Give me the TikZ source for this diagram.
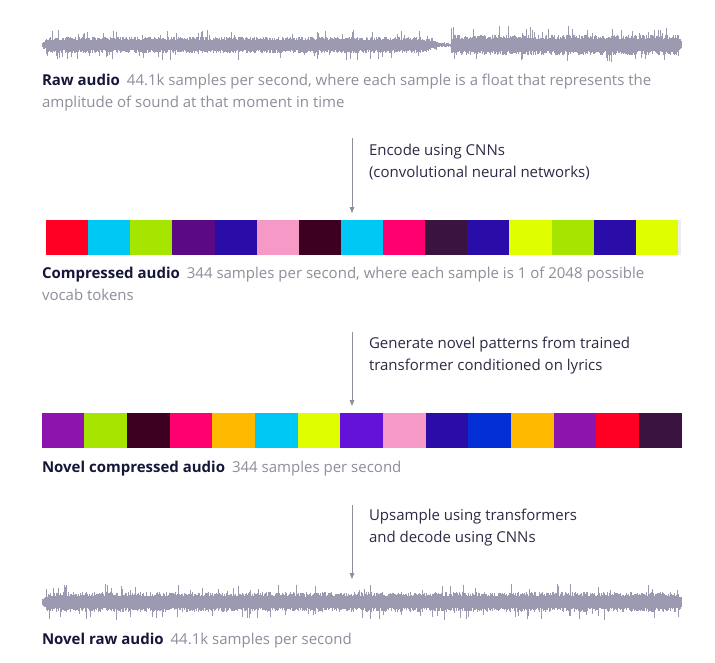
\documentclass[tikz,border=0pt]{standalone}
\usepackage{fontspec}
\setmainfont{Open Sans}
\usetikzlibrary{arrows.meta}
\definecolor{navy}{HTML}{16163A}
\definecolor{greytext}{HTML}{8E8E9C}
\definecolor{arrtext}{HTML}{2B2B45}
\definecolor{arrc}{HTML}{8F8F9C}
\definecolor{wavec}{HTML}{9C9AB0}
\definecolor{cred}{HTML}{FF0024}
\definecolor{ccyan}{HTML}{00C8F5}
\definecolor{cgreen}{HTML}{A6E500}
\definecolor{cpurple}{HTML}{5B0A84}
\definecolor{cindigo}{HTML}{2A0CA8}
\definecolor{cpink}{HTML}{F59AC6}
\definecolor{cmaroon}{HTML}{3E0020}
\definecolor{cmagenta}{HTML}{FF006E}
\definecolor{cdark}{HTML}{3A1340}
\definecolor{cyellow}{HTML}{DFFF00}
\definecolor{cviolet}{HTML}{8E14AE}
\definecolor{camber}{HTML}{FFBA00}
\definecolor{cviolettwo}{HTML}{6411D9}
\definecolor{cblue}{HTML}{0330D6}
\definecolor{sliver}{HTML}{ECECF0}
\tikzset{
  txt/.style={anchor=base west, align=left, inner sep=0pt, outer sep=0pt, font=\fontsize{15}{21.5}\selectfont},
  lbl/.style={txt, text=greytext},
  steptxt/.style={txt, text=arrtext},
  cell/.style={anchor=north west, inner sep=0pt, outer sep=0pt, draw=none, minimum height=35pt},
  flow/.style={draw=arrc, line width=0.8pt, -{Triangle[width=4.5pt,length=6pt]}},
  wave/.style={draw=wavec, line width=0.95pt},
}
\begin{document}
\begin{tikzpicture}[x=1pt,y=-1pt]
\useasboundingbox[fill=white] (0,0) rectangle (715,662);

% ---------- top waveform ----------
\pgfmathsetseed{11}
\foreach \i in {0,...,799}{
  \pgfmathsetmacro\x{42+\i*0.8}
  \pgfmathsetmacro\env{min(1,(\x-40)/8)*min(1,(684-\x)/6)*((\x<451) ? 0.85*max(0.22,min(1,(449-\x)/28)) : 1.05)}
  \pgfmathsetmacro\up{(rnd<0.07) ? 11+7*rnd : 5.5+4.5*rnd}
  \pgfmathsetmacro\dn{(rnd<0.07) ? 11+7*rnd : 5.5+4.5*rnd}
  \draw[wave] (\x,45-\env*\up) -- (\x,45+\env*\dn);
}
\coordinate (wave1) at (362,45);

\node[lbl] (raw) at (42,107) {{\bfseries\color{navy}Raw audio}\hspace{7pt}44.1k samples per second, where each sample is a float that represents the\\amplitude of sound at that moment in time};

% ---------- arrow 1 ----------
\coordinate (a1top) at (352,138);
\coordinate (a1bot) at (352,213);
\draw[flow] (a1top) -- (a1bot);
\node[steptxt] (enc) at (369,177) {Encode using CNNs\\(convolutional neural networks)};

% ---------- bar 1 ----------
\foreach \c [count=\i from 0] in {cred,ccyan,cgreen,cpurple,cindigo,cpink,cmaroon,ccyan,cmagenta,cdark,cindigo,cyellow,cgreen,cindigo,cyellow}{
  \node[cell, fill=\c, minimum width=42.13pt] (b1-\i) at ({46+\i*42.13},220) {};
}
\node[cell, fill=sliver, minimum width=3pt] (b1-end) at (678,220) {};

\node[lbl] (comp) at (42,300) {{\bfseries\color{navy}Compressed audio}\hspace{7pt}344 samples per second, where each sample is 1 of 2048 possible\\vocab tokens};

% ---------- arrow 2 ----------
\coordinate (a2top) at (352,332);
\coordinate (a2bot) at (352,406);
\draw[flow] (a2top) -- (a2bot);
\node[steptxt] (gen) at (369,370) {Generate novel patterns from trained\\transformer conditioned on lyrics};

% ---------- bar 2 ----------
\foreach \c [count=\i from 0] in {cviolet,cgreen,cmaroon,cmagenta,camber,ccyan,cyellow,cviolettwo,cpink,cindigo,cblue,camber,cviolet,cred,cdark}{
  \node[cell, fill=\c, minimum width=42.67pt] (b2-\i) at ({41.7+\i*42.67},413) {};
}

\node[lbl] (ncomp) at (42,472) {{\bfseries\color{navy}Novel compressed audio}\hspace{7pt}344 samples per second};

% ---------- arrow 3 ----------
\coordinate (a3top) at (352,505);
\coordinate (a3bot) at (352,579);
\draw[flow] (a3top) -- (a3bot);
\node[steptxt] (ups) at (369,542) {Upsample using transformers\\and decode using CNNs};

% ---------- bottom waveform ----------
\pgfmathsetseed{23}
\foreach \i in {0,...,799}{
  \pgfmathsetmacro\x{42+\i*0.8}
  \pgfmathsetmacro\env{min(1,(\x-40)/8)*min(1,(684-\x)/5)}
  \pgfmathsetmacro\up{(rnd<0.07) ? 11+7*rnd : 5.5+4.5*rnd}
  \pgfmathsetmacro\dn{(rnd<0.07) ? 11+7*rnd : 5.5+4.5*rnd}
  \draw[wave] (\x,602-\env*\up) -- (\x,602+\env*\dn);
}
\coordinate (wave2) at (362,602);

\node[lbl] (nraw) at (42,644) {{\bfseries\color{navy}Novel raw audio}\hspace{7pt}44.1k samples per second};
\end{tikzpicture}
\end{document}
